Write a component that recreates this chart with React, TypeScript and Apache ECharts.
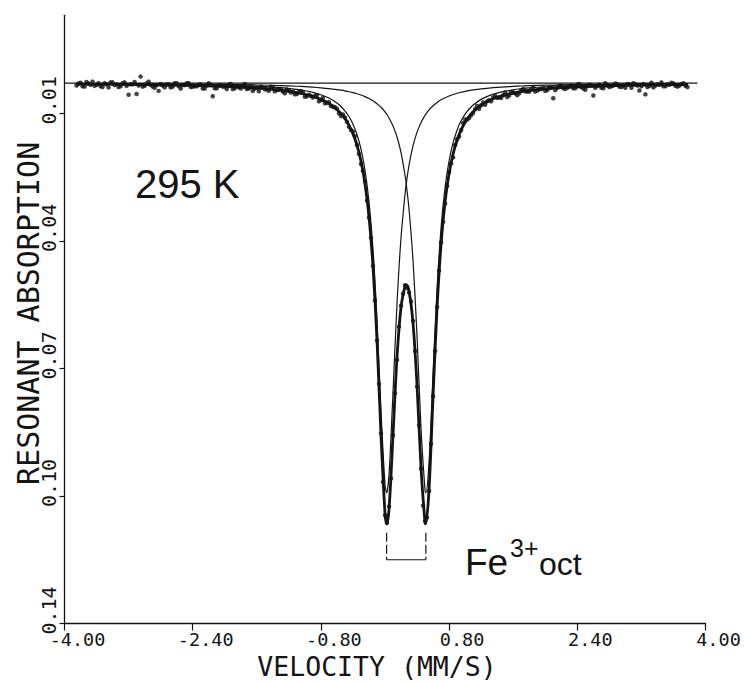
import React, { useEffect, useRef } from "react";
import * as echarts from "echarts";

// ---- measured spectrum, channel set A (velocity in mm/s, resonant absorption) ----
const velocity = [
  -3.85, -3.8, -3.75, -3.7, -3.65, -3.6, -3.55, -3.5, -3.45, -3.4,
  -3.35, -3.3, -3.25, -3.2, -3.15, -3.1, -3.05, -3.0, -2.95, -2.9,
  -2.85, -2.8, -2.75, -2.7, -2.65, -2.6, -2.55, -2.5, -2.45, -2.4,
  -2.35, -2.3, -2.25, -2.2, -2.15, -2.1, -2.05, -2.0, -1.95, -1.9,
  -1.85, -1.8, -1.75, -1.7, -1.65, -1.6, -1.55, -1.5, -1.45, -1.4,
  -1.35, -1.3, -1.25, -1.2, -1.15, -1.1, -1.05, -1.0, -0.95, -0.9,
  -0.85, -0.8, -0.75, -0.7, -0.65, -0.6, -0.55, -0.5, -0.45, -0.4,
  -0.35, -0.3, -0.25, -0.2, -0.15, -0.1, -0.05, 0.0, 0.05, 0.1,
  0.15, 0.2, 0.25, 0.3, 0.35, 0.4, 0.45, 0.5, 0.55, 0.6,
  0.65, 0.7, 0.75, 0.8, 0.85, 0.9, 0.95, 1.0, 1.05, 1.1,
  1.15, 1.2, 1.25, 1.3, 1.35, 1.4, 1.45, 1.5, 1.55, 1.6,
  1.65, 1.7, 1.75, 1.8, 1.85, 1.9, 1.95, 2.0, 2.05, 2.1,
  2.15, 2.2, 2.25, 2.3, 2.35, 2.4, 2.45, 2.5, 2.55, 2.6,
  2.65, 2.7, 2.75, 2.8, 2.85, 2.9, 2.95, 3.0, 3.05, 3.1,
  3.15, 3.2, 3.25, 3.3, 3.35, 3.4, 3.45, 3.5, 3.55, 3.6,
  3.65, 3.7, 3.75,
];
const absorption = [
  0.0028, 0.0021, 0.0031, 0.0023, 0.0018, 0.0026, 0.003, 0.0022, 0.0033, 0.002,
  0.0025, 0.003, 0.002, 0.0052, 0.0025, 0.005, 0.0005, 0.0029, 0.0018, 0.0031,
  0.0027, 0.0024, 0.0033, 0.0025, 0.0031, 0.0022, 0.0036, 0.0027, 0.0022, 0.0031,
  0.003, 0.0025, 0.0036, 0.0022, 0.0056, 0.0035, 0.0027, 0.0031, 0.0026, 0.0037,
  0.003, 0.0036, 0.0024, 0.0036, 0.0042, 0.0034, 0.0031, 0.0038, 0.0042, 0.0032,
  0.004, 0.0037, 0.0048, 0.0041, 0.0044, 0.005, 0.0043, 0.0057, 0.0052, 0.0059,
  0.0053, 0.0066, 0.0074, 0.0071, 0.0083, 0.0088, 0.0107, 0.0111, 0.0135, 0.0147,
  0.0182, 0.0231, 0.0276, 0.037, 0.0495, 0.0688, 0.0928, 0.114, 0.1117, 0.0933,
  0.0738, 0.0598, 0.0545, 0.0564, 0.0637, 0.0807, 0.1019, 0.1155, 0.1077, 0.0832,
  0.0601, 0.0434, 0.0334, 0.0252, 0.0214, 0.0167, 0.0144, 0.0116, 0.0112, 0.0099,
  0.0081, 0.0079, 0.0078, 0.0066, 0.0059, 0.006, 0.006, 0.0046, 0.0054, 0.0046,
  0.0053, 0.004, 0.0043, 0.0044, 0.0032, 0.0041, 0.0037, 0.0042, 0.0033, 0.0061,
  0.0034, 0.0029, 0.0037, 0.003, 0.0035, 0.0026, 0.0032, 0.0039, 0.0026, 0.0054,
  0.0029, 0.0034, 0.0022, 0.0032, 0.0028, 0.0025, 0.0032, 0.0034, 0.0025, 0.0022,
  0.0028, 0.003, 0.0051, 0.0029, 0.0033, 0.0025, 0.002, 0.003, 0.0026, 0.0023,
  0.0031, 0.0024, 0.0029,
];

// ---- measured spectrum, channel set B (interleaved channels) ----
const velocityB = [
  -3.825, -3.775, -3.725, -3.675, -3.625, -3.575, -3.525, -3.475, -3.425, -3.375,
  -3.325, -3.275, -3.225, -3.175, -3.125, -3.075, -3.025, -2.975, -2.925, -2.875,
  -2.825, -2.775, -2.725, -2.675, -2.625, -2.575, -2.525, -2.475, -2.425, -2.375,
  -2.325, -2.275, -2.225, -2.175, -2.125, -2.075, -2.025, -1.975, -1.925, -1.875,
  -1.825, -1.775, -1.725, -1.675, -1.625, -1.575, -1.525, -1.475, -1.425, -1.375,
  -1.325, -1.275, -1.225, -1.175, -1.125, -1.075, -1.025, -0.975, -0.925, -0.875,
  -0.825, -0.775, -0.725, -0.675, -0.625, -0.575, -0.525, -0.475, -0.425, -0.375,
  -0.325, -0.275, -0.225, -0.175, -0.125, -0.075, -0.025, 0.025, 0.075, 0.125,
  0.175, 0.225, 0.275, 0.325, 0.375, 0.425, 0.475, 0.525, 0.575, 0.625,
  0.675, 0.725, 0.775, 0.825, 0.875, 0.925, 0.975, 1.025, 1.075, 1.125,
  1.175, 1.225, 1.275, 1.325, 1.375, 1.425, 1.475, 1.525, 1.575, 1.625,
  1.675, 1.725, 1.775, 1.825, 1.875, 1.925, 1.975, 2.025, 2.075, 2.125,
  2.175, 2.225, 2.275, 2.325, 2.375, 2.425, 2.475, 2.525, 2.575, 2.625,
  2.675, 2.725, 2.775, 2.825, 2.875, 2.925, 2.975, 3.025, 3.075, 3.125,
  3.175, 3.225, 3.275, 3.325, 3.375, 3.425, 3.475, 3.525, 3.575, 3.625,
  3.675, 3.725, 3.775,
];
const absorptionB = [
  0.0023, 0.003, 0.0019, 0.0026, 0.0029, 0.0022, 0.0032, 0.0025, 0.002, 0.0027,
  0.0032, 0.0022, 0.0029, 0.0025, 0.0019, 0.0028, 0.0031, 0.0023, 0.0026, 0.0034,
  0.0042, 0.0028, 0.0025, 0.0033, 0.0022, 0.003, 0.0027, 0.0022, 0.0032, 0.003,
  0.0026, 0.0036, 0.0028, 0.0026, 0.0035, 0.0028, 0.0031, 0.0037, 0.0024, 0.0035,
  0.0032, 0.0031, 0.0037, 0.0029, 0.0036, 0.0043, 0.0033, 0.0038, 0.0031, 0.0043,
  0.0039, 0.0044, 0.0038, 0.0046, 0.0051, 0.0045, 0.0045, 0.0056, 0.0055, 0.0055,
  0.0069, 0.006, 0.0073, 0.0081, 0.0084, 0.01, 0.0103, 0.0122, 0.0143, 0.0159,
  0.0205, 0.0249, 0.0326, 0.0422, 0.0584, 0.08, 0.1054, 0.116, 0.1045, 0.0824,
  0.0652, 0.0567, 0.0552, 0.0587, 0.0715, 0.0907, 0.1115, 0.1146, 0.0955, 0.0715,
  0.0507, 0.0381, 0.0288, 0.023, 0.0182, 0.016, 0.0125, 0.0116, 0.0105, 0.0089,
  0.0088, 0.0072, 0.0069, 0.0069, 0.0055, 0.0059, 0.0053, 0.0058, 0.0045, 0.0048,
  0.0048, 0.0037, 0.0044, 0.0038, 0.0044, 0.0038, 0.0034, 0.004, 0.0034, 0.004,
  0.0029, 0.0035, 0.0034, 0.0028, 0.0035, 0.0024, 0.0036, 0.003, 0.0028, 0.0034,
  0.0026, 0.0035, 0.0028, 0.003, 0.0023, 0.0031, 0.0028, 0.0024, 0.0034, 0.0025,
  0.0041, 0.0024, 0.0032, 0.0021, 0.0028, 0.0026, 0.003, 0.0025, 0.0021, 0.0029,
  0.0028, 0.0022, 0.0032,
];

// ---- fitted curves (total fit and the two doublet lines) ----
const curveVelocity = [
  -3.85, -3.0, -2.5, -2.0, -1.6, -1.3, -1.1, -1.0, -0.9, -0.8,
  -0.7, -0.6, -0.55, -0.5, -0.45, -0.4, -0.35, -0.3, -0.25, -0.2,
  -0.15, -0.1, -0.05, 0.0, 0.02, 0.05, 0.1, 0.15, 0.2, 0.25,
  0.265, 0.3, 0.35, 0.4, 0.45, 0.5, 0.51, 0.55, 0.6, 0.65,
  0.7, 0.75, 0.8, 0.85, 0.9, 0.95, 1.0, 1.05, 1.1, 1.2,
  1.3, 1.4, 1.5, 1.6, 1.7, 1.8, 2.0, 2.2, 2.5, 3.0,
  3.5, 3.78,
];
const fitComponent1 = [
  0.00234, 0.00243, 0.00253, 0.00271, 0.00299, 0.00337, 0.00383, 0.00416, 0.0046, 0.0052,
  0.00606, 0.00734, 0.00823, 0.00936, 0.01084, 0.0128, 0.01548, 0.01923, 0.02466, 0.03276,
  0.04504, 0.06331, 0.087, 0.10608, 0.1082, 0.10355, 0.08211, 0.05912, 0.04215, 0.03086,
  0.02829, 0.0234, 0.01837, 0.01487, 0.01236, 0.01051, 0.0102, 0.00911, 0.00804, 0.00719,
  0.00651, 0.00596, 0.00551, 0.00513, 0.00482, 0.00455, 0.00432, 0.00412, 0.00395, 0.00367,
  0.00346, 0.00328, 0.00314, 0.00303, 0.00293, 0.00285, 0.00273, 0.00264, 0.00254, 0.00243,
  0.00237, 0.00235,
];
const fitComponent2 = [
  0.00231, 0.00237, 0.00243, 0.00253, 0.00267, 0.00283, 0.003, 0.00311, 0.00324, 0.0034,
  0.0036, 0.00386, 0.00402, 0.0042, 0.00441, 0.00465, 0.00494, 0.00527, 0.00568, 0.00617,
  0.00676, 0.00751, 0.00844, 0.00963, 0.0102, 0.01119, 0.01327, 0.01613, 0.02016, 0.02603,
  0.02829, 0.03482, 0.04817, 0.06774, 0.09175, 0.10766, 0.1082, 0.1002, 0.0772, 0.0552,
  0.0395, 0.02911, 0.02223, 0.01757, 0.0143, 0.01194, 0.0102, 0.00888, 0.00785, 0.00639,
  0.00543, 0.00476, 0.00428, 0.00392, 0.00365, 0.00343, 0.00313, 0.00292, 0.00272, 0.00253,
  0.00243, 0.0024,
];
const fitTotal = [
  0.00245, 0.0026, 0.00276, 0.00304, 0.00346, 0.004, 0.00463, 0.00507, 0.00564, 0.0064,
  0.00746, 0.009, 0.01005, 0.01136, 0.01305, 0.01525, 0.01822, 0.0223, 0.02814, 0.03673,
  0.0496, 0.06862, 0.09324, 0.11351, 0.1162, 0.11254, 0.09318, 0.07305, 0.06011, 0.05469,
  0.05438, 0.05602, 0.06434, 0.08041, 0.10191, 0.11597, 0.1162, 0.10711, 0.08304, 0.06019,
  0.04381, 0.03287, 0.02554, 0.0205, 0.01692, 0.01429, 0.01232, 0.0108, 0.0096, 0.00786,
  0.00669, 0.00584, 0.00522, 0.00475, 0.00438, 0.00408, 0.00366, 0.00336, 0.00306, 0.00276,
  0.0026, 0.00254,
];

// baseline (zero-absorption level) and the doublet bracket
const baselineVelocity = [-4.0, 3.9];
const baselineLevel = 0.0022;
const doubletLines = [0.02, 0.51];
const bracketTop = 0.1185;
const bracketBottom = 0.1255;

// ---- axes ----
const xTicks = [-4.0, -2.4, -0.8, 0.8, 2.4, 4.0];
const xTickLabels = ["-4.00", "-2.40", "-0.80", "0.80", "2.40", "4.00"];
const yTicks = [0.01, 0.043, 0.076, 0.109, 0.142];
const yTickLabels = ["0.01", "0.04", "0.07", "0.10", "0.14"];
const yMin = -0.01536;
const yMax = 0.142;

const INK = "#141414";
const MONO = '"DejaVu Sans Mono", monospace';
const SANS = '"Liberation Sans", Arial, sans-serif';

function labelFor(ticks: number[], labels: string[], v: number): string {
  for (let i = 0; i < ticks.length; i++) {
    if (Math.abs(ticks[i] - v) < 1e-6) return labels[i];
  }
  return "";
}

export default function App() {
  const ref = useRef<HTMLDivElement>(null);

  useEffect(() => {
    if (!ref.current) return;
    const chart = echarts.init(ref.current, undefined, { renderer: "svg" });

    const pairs = (xs: number[], ys: number[]) => xs.map((x, i) => [x, ys[i]]);
    const thin = { color: INK, width: 1.2 };
    const dots = {
      type: "scatter",
      symbol: "circle",
      symbolSize: 4.5,
      itemStyle: { color: INK },
      silent: true,
      z: 4,
    };

    const option: any = {
      animation: false,
      backgroundColor: "#ffffff",
      grid: {
        left: 64.5,
        right: 38.5,
        top: 15.3,
        bottom: 59.5,
        containLabel: false,
        outerBoundsMode: "none",
      },
      xAxis: {
        type: "value",
        min: -4,
        max: 4,
        axisLine: { show: true, onZero: false, lineStyle: { color: INK, width: 1.3 } },
        axisTick: {
          show: true,
          customValues: xTicks,
          length: 7,
          lineStyle: { color: INK, width: 1.2 },
        },
        axisLabel: {
          show: true,
          customValues: xTicks,
          formatter: (v: number) => labelFor(xTicks, xTickLabels, v),
          fontFamily: MONO,
          fontSize: 18.5,
          lineHeight: 14,
          color: INK,
          margin: 9.1,
          padding: [0, 0, 0, 26],
          showMinLabel: true,
          showMaxLabel: true,
        },
        splitLine: { show: false },
        name: "VELOCITY (MM/S)",
        nameLocation: "middle",
        nameGap: 33.3,
        nameMoveOverlap: false,
        nameTextStyle: {
          fontFamily: MONO,
          fontSize: 26.5,
          lineHeight: 20,
          color: INK,
          padding: [0, 16, 0, 0],
        },
      },
      yAxis: {
        type: "value",
        inverse: true,
        min: yMin,
        max: yMax,
        axisLine: { show: true, onZero: false, lineStyle: { color: INK, width: 1.3 } },
        axisTick: {
          show: true,
          customValues: yTicks,
          length: 5,
          lineStyle: { color: INK, width: 1.2 },
        },
        axisLabel: {
          show: true,
          customValues: yTicks,
          rotate: 90,
          formatter: (v: number) => labelFor(yTicks, yTickLabels, v),
          fontFamily: MONO,
          fontSize: 20,
          lineHeight: 14,
          color: INK,
          margin: 9,
          padding: [0, 0, 0, 26],
          showMinLabel: true,
          showMaxLabel: true,
        },
        splitLine: { show: false },
        name: "RESONANT ABSORPTION",
        nameLocation: "middle",
        nameRotate: 90,
        nameGap: 25,
        nameMoveOverlap: false,
        nameTextStyle: {
          fontFamily: MONO,
          fontSize: 30,
          lineHeight: 22,
          color: INK,
          padding: [0, 0, 0, 12],
        },
      },
      series: [
        {
          name: "baseline",
          type: "line",
          data: baselineVelocity.map((v) => [v, baselineLevel]),
          symbol: "none",
          lineStyle: thin,
          silent: true,
          z: 1,
        },
        {
          name: "line 1",
          type: "line",
          data: pairs(curveVelocity, fitComponent1),
          symbol: "none",
          smooth: 0.3,
          lineStyle: thin,
          silent: true,
          z: 2,
        },
        {
          name: "line 2",
          type: "line",
          data: pairs(curveVelocity, fitComponent2),
          symbol: "none",
          smooth: 0.3,
          lineStyle: thin,
          silent: true,
          z: 2,
        },
        {
          name: "fit",
          type: "line",
          data: pairs(curveVelocity, fitTotal),
          symbol: "none",
          smooth: 0.3,
          lineStyle: { color: INK, width: 2.8 },
          silent: true,
          z: 3,
        },
        { ...dots, name: "data A", data: pairs(velocity, absorption) },
        { ...dots, name: "data B", data: pairs(velocityB, absorptionB) },
        ...doubletLines.map((v, i) => ({
          name: "bracket " + (i + 1),
          type: "line",
          data: [
            [v, bracketTop],
            [v, bracketBottom],
          ],
          symbol: "none",
          lineStyle: { color: INK, width: 1.2, type: [9, 3] },
          silent: true,
          z: 2,
        })),
        {
          name: "bracket base",
          type: "line",
          data: doubletLines.map((v) => [v, bracketBottom]),
          symbol: "none",
          lineStyle: thin,
          silent: true,
          z: 2,
        },
      ],
      graphic: [
        {
          type: "text",
          x: 135,
          y: 184,
          style: {
            text: "295 K",
            fontFamily: SANS,
            fontSize: 40,
            fill: INK,
            align: "left",
            verticalAlign: "middle",
          },
        },
        {
          type: "text",
          x: 465,
          y: 562,
          style: {
            text: "Fe",
            fontFamily: SANS,
            fontSize: 37,
            fill: INK,
            align: "left",
            verticalAlign: "middle",
          },
        },
        {
          type: "text",
          x: 510,
          y: 548,
          style: {
            text: "3+",
            fontFamily: SANS,
            fontSize: 25,
            fill: INK,
            align: "left",
            verticalAlign: "middle",
          },
        },
        {
          type: "text",
          x: 539,
          y: 564,
          style: {
            text: "oct",
            fontFamily: SANS,
            fontSize: 32,
            fill: INK,
            align: "left",
            verticalAlign: "middle",
          },
        },
      ],
    };

    chart.setOption(option);
    return () => {
      chart.dispose();
    };
  }, []);

  return (
    <div
      ref={ref}
      style={{ position: "fixed", left: 0, top: 0, width: 744, height: 683, background: "#fff" }}
    />
  );
}
